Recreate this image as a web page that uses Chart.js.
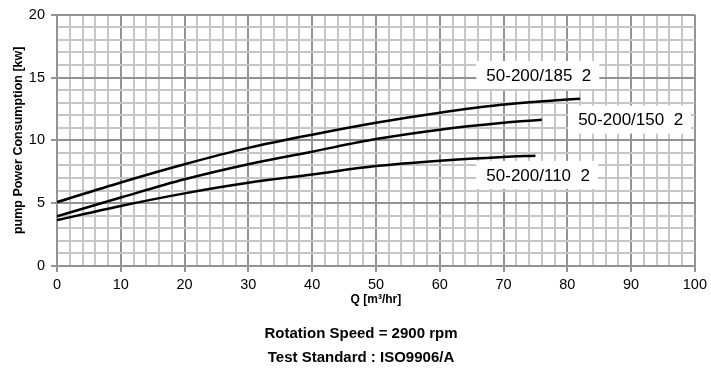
<!DOCTYPE html>
<html>
<head>
<meta charset="utf-8">
<script src="https://cdn.jsdelivr.net/npm/chart.js@4"></script>
<style>
html,body{margin:0;padding:0;background:#fff;}
#wrap{position:relative;width:711px;height:373px;}
</style>
</head>
<body>
<div id="wrap"><canvas id="c" width="711" height="373"></canvas></div>
<script>
// ---- data ----
const q185 = [0, 10, 20, 30, 40, 50, 60, 70, 80, 82];
const p185 = [5.08, 6.65, 8.1, 9.4, 10.45, 11.4, 12.2, 12.85, 13.25, 13.32];
const q150 = [0, 10, 20, 30, 40, 50, 60, 70, 76];
const p150 = [3.95, 5.45, 6.9, 8.1, 9.1, 10.1, 10.85, 11.4, 11.63];
const q110 = [0, 10, 20, 30, 40, 50, 60, 70, 75];
const p110 = [3.65, 4.78, 5.78, 6.62, 7.28, 7.95, 8.38, 8.68, 8.78];
const seriesNames = ['50-200/185  2', '50-200/150  2', '50-200/110  2'];
const xTickLabels = [0, 10, 20, 30, 40, 50, 60, 70, 80, 90, 100];
const yTickLabels = [0, 5, 10, 15, 20];
const footerLines = ['Rotation Speed = 2900 rpm', 'Test Standard : ISO9906/A'];

const toPts = (xs, ys) => xs.map((x, i) => ({x: x, y: ys[i]}));

// label anchors (data coordinates of left/center of text)
const labelAnchors = [
  {x: 67.3, y: 15.2},
  {x: 81.7, y: 11.65},
  {x: 67.3, y: 7.25}
];

const MAJOR = '#939393', MINOR = '#c6c6c6';
const FONT = '"Liberation Sans", Arial, sans-serif';

const curveLabels = {
  id: 'curveLabels',
  afterDatasetsDraw(chart) {
    const {ctx, scales: {x, y}} = chart;
    ctx.save();
    ctx.font = '17px ' + FONT;
    ctx.textBaseline = 'middle';
    ctx.textAlign = 'left';
    seriesNames.forEach((name, i) => {
      const px = x.getPixelForValue(labelAnchors[i].x);
      const py = y.getPixelForValue(labelAnchors[i].y);
      const w = ctx.measureText(name).width;
      ctx.fillStyle = '#fff';
      ctx.fillRect(px - 10, py - 14, w + 18, 28);
      ctx.fillStyle = '#000';
      ctx.fillText(name, px, py + 1);
    });
    ctx.restore();
  }
};

const footer = {
  id: 'footer',
  afterDraw(chart) {
    const ctx = chart.ctx;
    ctx.save();
    ctx.font = 'bold 15px ' + FONT;
    ctx.fillStyle = '#000';
    ctx.textAlign = 'center';
    ctx.textBaseline = 'middle';
    ctx.fillText(footerLines[0], 361, 334);
    ctx.fillText(footerLines[1], 361, 358);
    ctx.restore();
  }
};

const mk = (xs, ys) => ({
  data: toPts(xs, ys),
  borderColor: '#000',
  borderWidth: 2.5,
  pointRadius: 0,
  fill: false,
  cubicInterpolationMode: 'monotone'
});

new Chart(document.getElementById('c'), {
  type: 'line',
  data: {
    datasets: [mk(q185, p185), mk(q150, p150), mk(q110, p110)]
  },
  options: {
    responsive: false,
    animation: false,
    layout: {padding: {top: 7, right: 14, left: 0, bottom: 65}},
    plugins: {legend: {display: false}, tooltip: {enabled: false}, title: {display: false}},
    scales: {
      x: {
        type: 'linear',
        min: 0, max: 100,
        afterFit(s) { s.height = 42; },
        ticks: {
          stepSize: 2,
          autoSkip: false,
          maxRotation: 0,
          padding: 4,
          color: '#000',
          font: {family: FONT, size: 14.5},
          callback: v => xTickLabels.includes(v) ? String(v) : ''
        },
        grid: {
          color: c => (c.tick && c.tick.value % 10 === 0) ? MAJOR : MINOR,
          lineWidth: 2,
          tickLength: 6,
          tickColor: c => (c.tick && c.tick.value % 10 === 0) ? MAJOR : 'rgba(0,0,0,0)'
        },
        border: {color: MAJOR, width: 2},
        title: {
          display: true,
          text: 'Q [m³/hr]',
          color: '#000',
          font: {family: FONT, size: 12, weight: 'bold'},
          padding: {top: 0, bottom: 1}
        }
      },
      y: {
        min: 0, max: 20,
        afterFit(s) { s.width = 57; },
        ticks: {
          stepSize: 1,
          autoSkip: false,
          padding: 6,
          color: '#000',
          font: {family: FONT, size: 14.5},
          callback: v => yTickLabels.includes(v) ? String(v) : ''
        },
        grid: {
          color: c => (c.tick && c.tick.value % 5 === 0) ? MAJOR : MINOR,
          lineWidth: 2,
          tickLength: 6,
          tickColor: c => (c.tick && c.tick.value % 5 === 0) ? MAJOR : 'rgba(0,0,0,0)'
        },
        border: {color: MAJOR, width: 2},
        title: {
          display: true,
          text: 'pump Power Consumption [kw]',
          color: '#000',
          font: {family: FONT, size: 12.5, weight: 'bold'},
          padding: {top: 11, bottom: 0}
        }
      }
    }
  },
  plugins: [curveLabels, footer]
});
</script>
</body>
</html>
